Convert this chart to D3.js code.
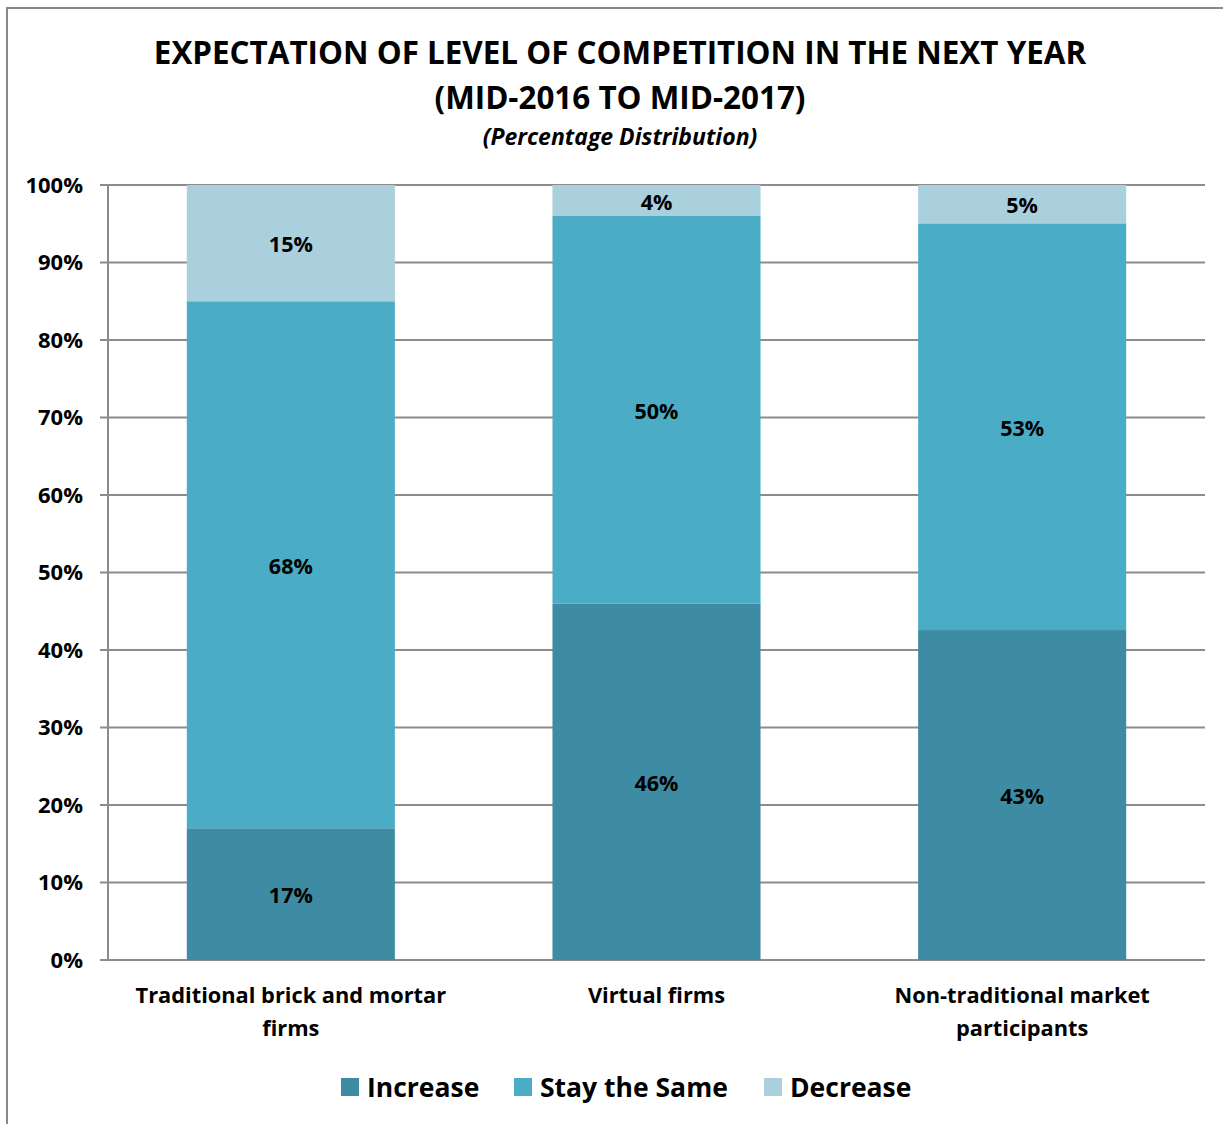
<!DOCTYPE html>
<html>
<head>
<meta charset="utf-8">
<script src="https://cdn.jsdelivr.net/npm/d3@7"></script>
<style>
  html, body { margin: 0; padding: 0; background: #fff; }
  svg { display: block; font-family: "Open Sans", Lato, sans-serif; }
</style>
</head>
<body>
<svg id="chart" width="1223" height="1124"></svg>
<script>
// Survey responses, percent of respondents per firm type
const categories = ["Traditional brick and mortar firms", "Virtual firms", "Non-traditional market participants"];
const categoryLines = [["Traditional brick and mortar", "firms"], ["Virtual firms"], ["Non-traditional market", "participants"]];
const seriesNames = ["Increase", "Stay the Same", "Decrease"];
const increase = [17, 46, 43];
const staySame = [68, 50, 53];
const decrease = [15, 4, 5];
const yTicks = [0, 10, 20, 30, 40, 50, 60, 70, 80, 90, 100];
const titleLines = ["EXPECTATION OF LEVEL OF COMPETITION IN THE NEXT YEAR", "(MID-2016 TO MID-2017)"];
const subtitle = "(Percentage Distribution)";

const colors = ["#3d8ca3", "#4bacc6", "#aacfdd"];
const gridColor = "#8c8c8c";

const svg = d3.select("#chart");

// chart frame
svg.append("rect")
  .attr("x", 7).attr("y", 8)
  .attr("width", 1400).attr("height", 1400)
  .attr("fill", "none").attr("stroke", "#888").attr("stroke-width", 2);

// titles
svg.append("g").selectAll("text").data(titleLines).join("text")
  .attr("x", 620).attr("y", (d, i) => 64 + i * 45)
  .attr("text-anchor", "middle")
  .attr("font-size", 31.4).attr("font-weight", 700).attr("fill", "#000")
  .text(d => d);
svg.append("text")
  .attr("x", 620).attr("y", 145)
  .attr("text-anchor", "middle")
  .attr("font-size", 23).attr("font-weight", 700).attr("font-style", "italic")
  .text(subtitle);

const plot = { left: 108, right: 1205, top: 185, bottom: 960 };

const x = d3.scaleBand()
  .domain(categories)
  .range([plot.left, plot.right])
  .paddingInner(0.431)
  .paddingOuter(0.2155);

const y = d3.scaleLinear().domain([0, 100]).range([plot.bottom, plot.top]);

// gridlines
svg.append("g").selectAll("line").data(yTicks).join("line")
  .attr("x1", plot.left - 8).attr("x2", plot.right)
  .attr("y1", d => y(d)).attr("y2", d => y(d))
  .attr("stroke", gridColor).attr("stroke-width", 2);

// vertical axis line
svg.append("line")
  .attr("x1", plot.left).attr("x2", plot.left)
  .attr("y1", plot.top).attr("y2", plot.bottom)
  .attr("stroke", gridColor).attr("stroke-width", 2);

// y tick labels
svg.append("g").selectAll("text").data(yTicks).join("text")
  .attr("x", 83).attr("y", d => y(d))
  .attr("dy", "0.36em")
  .attr("text-anchor", "end")
  .attr("font-size", 22).attr("font-weight", 700)
  .text(d => d + "%");

// stacked (100%) data
const rows = categories.map((c, i) => ({
  category: c,
  "Increase": increase[i],
  "Stay the Same": staySame[i],
  "Decrease": decrease[i]
}));
const stacked = d3.stack().keys(seriesNames).offset(d3.stackOffsetExpand)(rows);

const layers = svg.append("g").selectAll("g").data(stacked).join("g")
  .attr("fill", (d, i) => colors[i]);

layers.selectAll("rect").data(d => d).join("rect")
  .attr("x", d => x(d.data.category))
  .attr("width", x.bandwidth())
  .attr("y", d => y(d[1] * 100))
  .attr("height", d => y(d[0] * 100) - y(d[1] * 100));

// value labels
const labelG = svg.append("g");
stacked.forEach(layer => {
  layer.forEach(d => {
    labelG.append("text")
      .attr("x", x(d.data.category) + x.bandwidth() / 2)
      .attr("y", y((d[0] + d[1]) / 2 * 100) + 1.5)
      .attr("dy", "0.36em")
      .attr("text-anchor", "middle")
      .attr("font-size", 21.5).attr("font-weight", 700)
      .text(d.data[layer.key] + "%");
  });
});

// category labels
const catG = svg.append("g").selectAll("text").data(categories).join("text")
  .attr("text-anchor", "middle")
  .attr("font-size", 21.8).attr("font-weight", 700);
catG.each(function(c, i) {
  d3.select(this).selectAll("tspan").data(categoryLines[i]).join("tspan")
    .attr("x", x(c) + x.bandwidth() / 2)
    .attr("y", (d, j) => 1003 + j * 33)
    .text(d => d);
});

// legend
const legendItems = [
  { name: seriesNames[0], x: 341 },
  { name: seriesNames[1], x: 514 },
  { name: seriesNames[2], x: 764 }
];
const lg = svg.append("g").selectAll("g").data(legendItems).join("g")
  .attr("transform", d => `translate(${d.x},1078)`);
lg.append("rect").attr("width", 18).attr("height", 18)
  .attr("fill", (d, i) => colors[i]);
lg.append("text").attr("x", 26).attr("y", 19)
  .attr("font-size", 26.5).attr("font-weight", 700)
  .text(d => d.name);
</script>
</body>
</html>
